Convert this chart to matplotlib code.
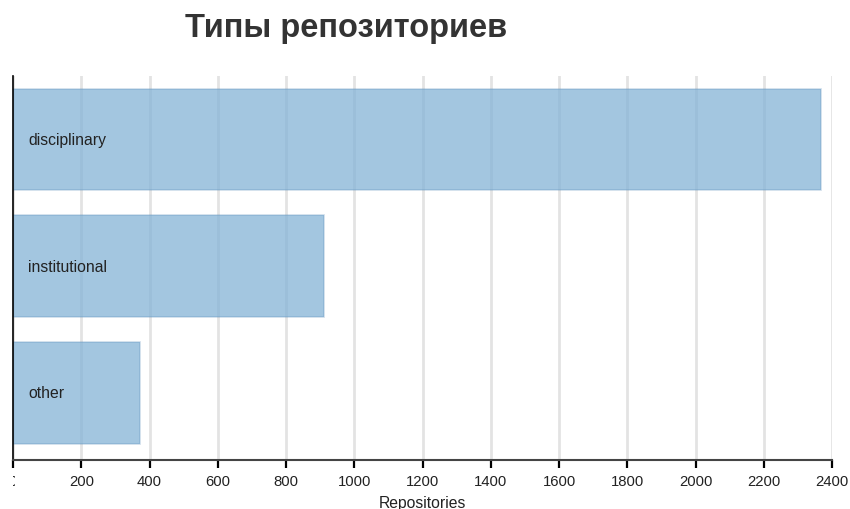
import matplotlib.pyplot as plt
from matplotlib.transforms import Bbox, offset_copy

categories = ["disciplinary", "institutional", "other"]
repositories = [2368, 911, 372]
x_ticks = [0, 200, 400, 600, 800, 1000, 1200, 1400, 1600, 1800, 2000, 2200, 2400]

plt.rcParams['font.family'] = ['Liberation Sans', 'DejaVu Sans']

fig = plt.figure(figsize=(8.5, 5.1), dpi=100)
ax = fig.add_axes([13 / 850, 1 - 461 / 510, 819 / 850, 384 / 510])

pos = list(range(len(categories)))
ax.barh(pos, repositories, height=0.8, color=(132 / 255, 179 / 255, 214 / 255, 0.75),
        edgecolor=(90 / 255, 140 / 255, 185 / 255, 0.3), linewidth=1.2, zorder=2)

# category names sit inside the bars
text_tr = offset_copy(ax.transData, fig=fig, units='dots', x=15)
for p, name in zip(pos, categories):
    ax.text(0, p, name, transform=text_tr, fontsize=11.3, color='#222222',
            va='center', ha='left', zorder=3)

ax.set_xlim(0, 2400)
ax.set_ylim(2.53, -0.5)
ax.set_xticks(x_ticks)
ax.set_xticklabels([str(t) for t in x_ticks], fontsize=10.7, color='#222222')
ax.set_yticks([])
ax.grid(axis='x', color='#e3e3e3', linewidth=2, zorder=1)
ax.set_axisbelow(True)
ax.tick_params(axis='x', length=6, width=1.6, color='black', pad=4)

for side in ['top', 'right']:
    ax.spines[side].set_visible(False)
ax.spines['left'].set_color('black')
ax.spines['left'].set_linewidth(1.2)
ax.spines['bottom'].set_color('#444444')
ax.spines['bottom'].set_linewidth(1.5)

ax.set_xlabel("Repositories", fontsize=11.3, color='#222222', labelpad=5)

fig.text(346.5 / 850, 1 - 28 / 510, "Типы репозиториев", fontsize=23.5, fontweight='bold',
         color='#333333', ha='center', va='center')

# the zero label is cut off at the left edge in the original
fig.canvas.draw()
lbl0 = ax.get_xticklabels()[0]
lbl0.set_clip_on(True)
lbl0.set_clip_box(Bbox.from_extents(12.5, 0, 15, 510))

fig.savefig("out.png", dpi=100)
